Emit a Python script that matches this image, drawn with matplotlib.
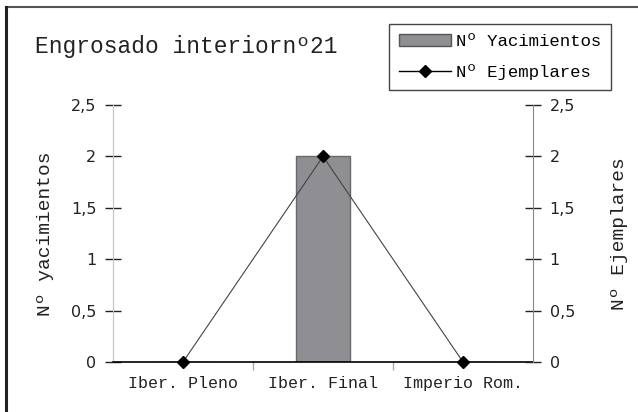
import matplotlib.pyplot as plt
import matplotlib.patches as mpatches
from matplotlib.lines import Line2D

# datos
categorias = ["Iber. Pleno", "Iber. Final", "Imperio Rom."]
yacimientos = [0, 2, 0]
ejemplares = [0, 2, 0]
ticks_y = [0, 0.5, 1, 1.5, 2, 2.5]
etiquetas_y = ["0", "0,5", "1", "1,5", "2", "2,5"]

mono = "Liberation Mono"
sans = "DejaVu Sans"

fig = plt.figure(figsize=(6.38, 4.12), dpi=100)

# marco superior e izquierdo del grafico
fig.add_artist(Line2D([6 / 638, 1.0], [1 - 6.5 / 412] * 2, color="#555555", lw=1.5,
                      transform=fig.transFigure))
fig.add_artist(Line2D([6 / 638] * 2, [0.0, 1 - 6.5 / 412], color="#222222", lw=2.2,
                      transform=fig.transFigure))

ax = fig.add_axes([113 / 638, 1 - 362 / 412, 420 / 638, 257 / 412])
x = list(range(len(categorias)))

ax.bar(x, yacimientos, width=0.39, color="#8e8e93", edgecolor="#6a6a6a", lw=1,
       zorder=2)
ax.set_xlim(-0.5, 2.5)
ax.set_ylim(0, 2.5)

ax2 = ax.twinx()
ax2.plot(x, ejemplares, color="#444444", lw=0.8, marker="D", ms=6,
         mfc="black", mec="black", zorder=3, clip_on=False)
ax2.set_ylim(0, 2.5)

for a in (ax, ax2):
    a.set_yticks(ticks_y)
    a.set_yticklabels(etiquetas_y, fontfamily=sans, fontsize=11.5, color="#222222")
    a.spines["top"].set_visible(False)
    a.tick_params(axis="y", direction="inout", length=12, width=1, color="#222222")
    a.patch.set_visible(False)

ax.spines["right"].set_visible(False)
ax.spines["left"].set_color("#c4c4c4")
ax.spines["bottom"].set_color("black")
ax.spines["bottom"].set_linewidth(1.2)
ax2.spines["left"].set_visible(False)
ax2.spines["bottom"].set_visible(False)
ax2.spines["right"].set_color("#888888")
ax.tick_params(axis="y", pad=6)
ax2.tick_params(axis="y", pad=6)

ax.set_xticks(x)
ax.set_xticklabels(categorias, fontfamily=mono, fontsize=12, color="#222222")
ax.tick_params(axis="x", length=0, pad=10)
ax.set_xticks([0.5, 1.5], minor=True)
ax.tick_params(axis="x", which="minor", direction="out", length=6, width=1,
               color="#aaaaaa")

ax.set_ylabel("Nº yacimientos", fontfamily=mono, fontsize=14, color="#222222",
              labelpad=12)
ax2.set_ylabel("Nº Ejemplares", fontfamily=mono, fontsize=14, color="#222222",
               labelpad=26)

fig.text(35 / 638, 1 - 47 / 412, "Engrosado interiornº21", fontfamily=mono,
         fontsize=16.5, va="center", ha="left", color="#222222")

h_bar = mpatches.Patch(facecolor="#8e8e93", edgecolor="#555555", lw=1)
h_lin = Line2D([], [], color="black", lw=1, marker="D", ms=6, mfc="black")
leg = fig.legend([h_bar, h_lin], ["Nº Yacimientos", "Nº Ejemplares"],
                 loc="upper right", bbox_to_anchor=(611 / 638, 1 - 24 / 412),
                 prop={"family": mono, "size": 12.5}, frameon=True, fancybox=False,
                 edgecolor="#444444", framealpha=1, handlelength=3.0,
                 handletextpad=0.3, borderpad=0.55, labelspacing=0.9,
                 borderaxespad=0)
leg.get_frame().set_linewidth(1)

fig.savefig("out.png", dpi=100)
